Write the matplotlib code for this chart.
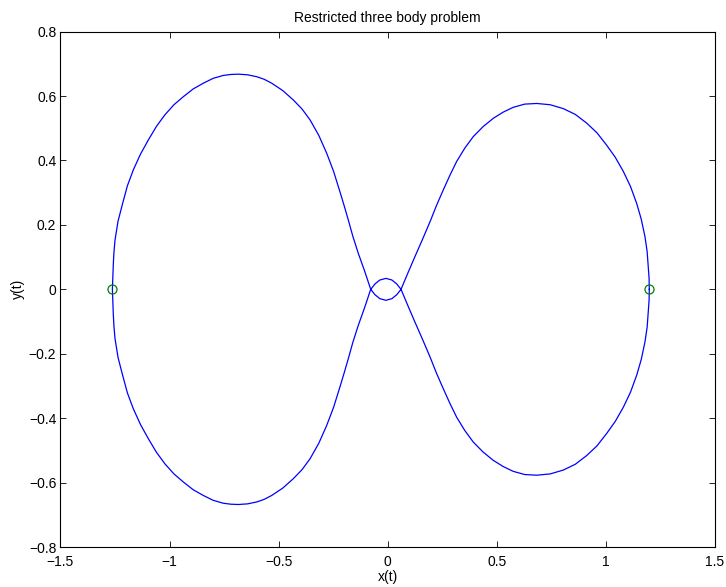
import matplotlib
matplotlib.use('Agg')
import matplotlib.pyplot as plt

plt.rcParams['font.family'] = ['Liberation Sans', 'DejaVu Sans']
plt.rcParams['font.size'] = 10

# orbit, in the order it is traced
# lower right lobe, start at (1.2, 0) going down
x_lower_right = [1.199, 1.198, 1.194, 1.189, 1.179, 1.162, 1.141, 1.113, 1.080, 1.043,
                 1.003, 0.959, 0.912, 0.860, 0.805, 0.745, 0.683, 0.628, 0.575, 0.529,
                 0.484, 0.437, 0.392, 0.353, 0.316, 0.285, 0.255, 0.224, 0.194, 0.160,
                 0.125, 0.092]
y_lower_right = [0.0, -0.035, -0.070, -0.118, -0.164, -0.218, -0.267, -0.319, -0.366, -0.410,
                 -0.448, -0.486, -0.516, -0.543, -0.561, -0.573, -0.577, -0.575, -0.565, -0.550,
                 -0.531, -0.505, -0.474, -0.438, -0.397, -0.354, -0.309, -0.261, -0.210, -0.156,
                 -0.102, -0.050]

# through the centre over the top of the small loop
x_loop_top = [0.061, 0.041, 0.019, -0.008, -0.036, -0.058, -0.078]
y_loop_top = [0.0, 0.017, 0.029, 0.034, 0.029, 0.017, 0.0]

# lower left lobe
x_lower_left = [-0.105, -0.135, -0.160, -0.181, -0.199, -0.219, -0.248, -0.280, -0.316, -0.356,
                -0.393, -0.433, -0.481, -0.532, -0.566, -0.600, -0.642, -0.685, -0.720, -0.754,
                -0.800, -0.845, -0.892, -0.937, -0.980, -1.021, -1.060, -1.097, -1.133, -1.166,
                -1.193, -1.215, -1.236, -1.250, -1.255, -1.258, -1.262]
y_lower_left = [-0.055, -0.112, -0.165, -0.216, -0.258, -0.303, -0.366, -0.423, -0.478, -0.526,
                -0.560, -0.588, -0.617, -0.640, -0.652, -0.660, -0.666, -0.668, -0.667, -0.664,
                -0.655, -0.640, -0.622, -0.598, -0.573, -0.542, -0.506, -0.464, -0.420, -0.371,
                -0.322, -0.267, -0.212, -0.153, -0.114, -0.075, 0.0]

# upper left lobe
x_upper_left = [-1.258, -1.255, -1.250, -1.236, -1.215, -1.193, -1.166, -1.133, -1.097, -1.060,
                -1.021, -0.980, -0.937, -0.892, -0.845, -0.800, -0.754, -0.720, -0.685, -0.642,
                -0.600, -0.566, -0.532, -0.481, -0.433, -0.393, -0.356, -0.316, -0.280, -0.248,
                -0.219, -0.199, -0.181, -0.160, -0.135, -0.105]
y_upper_left = [0.075, 0.114, 0.153, 0.212, 0.267, 0.322, 0.371, 0.420, 0.464, 0.506,
                0.542, 0.573, 0.598, 0.622, 0.640, 0.655, 0.664, 0.667, 0.668, 0.666,
                0.660, 0.652, 0.640, 0.617, 0.588, 0.560, 0.526, 0.478, 0.423, 0.366,
                0.303, 0.258, 0.216, 0.165, 0.112, 0.055]

# back through the centre under the small loop
x_loop_bottom = [-0.078, -0.058, -0.036, -0.008, 0.019, 0.041, 0.061]
y_loop_bottom = [0.0, -0.017, -0.029, -0.034, -0.029, -0.017, 0.0]

# upper right lobe, back to the start
x_upper_right = [0.092, 0.125, 0.160, 0.194, 0.224, 0.255, 0.285, 0.316, 0.353, 0.392,
                 0.437, 0.484, 0.529, 0.575, 0.628, 0.683, 0.745, 0.805, 0.860, 0.912,
                 0.959, 1.003, 1.043, 1.080, 1.113, 1.141, 1.162, 1.179, 1.189, 1.194,
                 1.198, 1.199]
y_upper_right = [0.050, 0.102, 0.156, 0.210, 0.261, 0.309, 0.354, 0.397, 0.438, 0.474,
                 0.505, 0.531, 0.550, 0.565, 0.575, 0.577, 0.573, 0.561, 0.543, 0.516,
                 0.486, 0.448, 0.410, 0.366, 0.319, 0.267, 0.218, 0.164, 0.118, 0.070,
                 0.035, 0.0]

# event points (circles)
x_events = [-1.262, 1.199]
y_events = [0.0, 0.0]

xt = (x_lower_right + x_loop_top + x_lower_left + x_upper_left + x_loop_bottom + x_upper_right)
yt = (y_lower_right + y_loop_top + y_lower_left + y_upper_left + y_loop_bottom + y_upper_right)

fig = plt.figure(figsize=(7.26, 5.87), dpi=100)
ax = fig.add_axes([0.0833, 0.0681, 0.9015, 0.878])

ax.plot(xt, yt, color=(0, 0, 1), linewidth=0.9)
ax.plot(x_events, y_events, 'o', markerfacecolor='none', markeredgecolor=(0, 0.5, 0),
        markersize=6.5, markeredgewidth=0.9)

ax.set_xlim(-1.5, 1.5)
ax.set_ylim(-0.8, 0.8)
ax.set_xticks([-1.5, -1, -0.5, 0, 0.5, 1, 1.5])
ax.set_xticklabels(['\u22121.5', '\u22121', '\u22120.5', '0', '0.5', '1', '1.5'])
ax.set_yticks([-0.8, -0.6, -0.4, -0.2, 0, 0.2, 0.4, 0.6, 0.8])
ax.set_yticklabels(['\u22120.8', '\u22120.6', '\u22120.4', '\u22120.2', '0', '0.2', '0.4', '0.6', '0.8'])
ax.tick_params(direction='in', length=4.5, width=0.6, top=True, right=True)
ax.tick_params(axis='x', pad=5.5)
ax.tick_params(axis='y', pad=3)
for s in ax.spines.values():
    s.set_linewidth(0.8)

ax.set_title('Restricted three body problem', fontsize=10, pad=7)
ax.set_xlabel('x(t)', labelpad=1)
ax.set_ylabel('y(t)', labelpad=3)

fig.savefig('out.png', dpi=100)
